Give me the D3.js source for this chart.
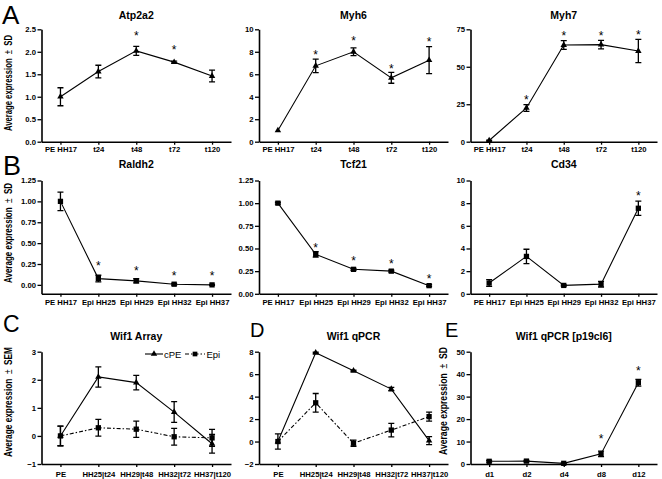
<!DOCTYPE html>
<html><head><meta charset="utf-8">
<script src="https://cdn.jsdelivr.net/npm/d3@7"></script>
<style>
body{margin:0;background:#fff;}
svg{display:block;font-family:"Liberation Sans",Arial,sans-serif;}
</style></head><body>
<svg id="c" width="662" height="479"></svg>
<script>
// ---------- data ----------
const catsA = ["PE HH17","t24","t48","t72","t120"];
const catsB = ["PE HH17","Epi HH25","Epi HH29","Epi HH32","Epi HH37"];
const catsC = ["PE","HH25|t24","HH29|t48","HH32|t72","HH37|t120"];
const catsE = ["d1","d2","d4","d8","d12"];

const atp2a2Mean = [1.0,1.56,2.02,1.77,1.46];
const atp2a2SD   = [0.2,0.14,0.1,0.02,0.13];
const atp2a2Star = [null,null,2.41,2.11,null];

const myh6Mean = [1.0,6.75,8.0,5.68,7.25];
const myh6SD   = [0,0.6,0.35,0.48,1.2];
const myh6Star = [null,8.0,9.2,6.73,9.14];

const myh7Mean = [0.8,22.5,64.5,64.8,60.5];
const myh7SD   = [0.3,2.3,2.9,2.8,7.8];
const myh7Star = [null,30,72.3,72.3,73.4];

const raldh2Mean = [1.0,0.075,0.048,0.008,0.0];
const raldh2SD   = [0.11,0.04,0.025,0.01,0.005];
const raldh2Star = [null,0.26,0.2,0.146,0.14];

const tcf21Mean = [1.0,0.435,0.27,0.25,0.09];
const tcf21SD   = [0.01,0.03,0.01,0.01,0.01];
const tcf21Star = [null,0.54,0.39,0.364,0.2];

const cd34Mean = [0.95,3.3,0.74,0.85,7.55];
const cd34SD   = [0.3,0.63,0.05,0.25,0.63];
const cd34Star = [null,null,null,null,8.9];

const arrayCpe    = [0,2.1,1.9,0.85,-0.28];
const arrayCpeSEM = [0.35,0.36,0.26,0.37,0.33];
const arrayEpi    = [0,0.29,0.24,-0.03,-0.07];
const arrayEpiSEM = [0.35,0.3,0.29,0.3,0.3];

const qpcrCpe    = [0,7.9,6.3,4.67,0.08];
const qpcrCpeErr = [0,0.05,0.05,0.15,0.35];
const qpcrEpi    = [0,3.45,-0.15,1.02,2.22];
const qpcrEpiErr = [0.68,0.83,0.27,0.6,0.4];

const p19Mean = [1.2,1.3,0.3,4.5,36.2];
const p19SD   = [0.4,0.3,0.2,1.2,1.5];
const p19Star = [null,null,null,12.5,42.6];

const ticksAtp = [0,0.5,1.0,1.5,2.0,2.5];
const ticks10  = [0,2,4,6,8,10];
const ticks75  = [0,25,50,75];
const ticks125 = [0,0.25,0.5,0.75,1.0,1.25];
const ticksArr = [-1,0,1,2,3];
const ticksQ   = [-2,0,2,4,6,8];
const ticks50  = [0,10,20,30,40,50];

// ---------- layout ----------
const svg = d3.select("#c");
const cols = [[41.5,231],[259,448],[470.5,657]];
const rows = [
  {top:29.3,bot:141.7,title:18.5,pad:1.5},
  {top:180.5,bot:293.8,title:168,pad:2.5},
  {top:351.7,bot:464,title:340,pad:5}
];

function panel(o){
  const [x0,x1] = cols[o.col], R = rows[o.row];
  const x = d3.scalePoint().domain(o.cats).range([x0,x1]).padding(0.5);
  const y = d3.scaleLinear().domain(o.yDomain).range([R.bot,R.top]);
  const g = svg.append("g");

  const ya = g.append("g").attr("transform",`translate(${x0},0)`)
    .call(d3.axisLeft(y).tickValues(o.ticks).tickFormat(d3.format(o.fmt)).tickSize(4).tickPadding(1.5).tickSizeOuter(0));
  const xa = g.append("g").attr("transform",`translate(0,${R.bot})`)
    .call(d3.axisBottom(x).tickSize(3).tickPadding(R.pad).tickSizeOuter(0));
  [ya,xa].forEach(a=>{
    a.select(".domain").attr("stroke","#000").attr("stroke-width",1.6);
    a.selectAll(".tick line").attr("stroke","#000").attr("stroke-width",1.3);
    a.selectAll(".tick text").attr("fill","#000").attr("font-size",7.7).attr("font-weight","bold")
      .attr("font-family","'Liberation Sans',Arial,sans-serif");
  });

  g.append("text").attr("x",(x0+x1)/2).attr("y",R.title).attr("text-anchor","middle")
    .attr("font-size",10.5).attr("font-weight","bold").text(o.title);

  o.series.forEach(s=>{
    const pts = o.cats.map((c,i)=>({c,m:s.mean[i],e:s.err[i]}));
    const line = d3.line().x(d=>x(d.c)).y(d=>y(d.m));
    g.append("path").datum(pts).attr("d",line).attr("fill","none").attr("stroke","#000")
      .attr("stroke-width",1.1).attr("stroke-dasharray",s.dash||null);
    pts.forEach(d=>{
      if(d.e>0){
        const cx=x(d.c), yt=y(d.m+d.e), yb=y(d.m-d.e);
        g.append("path").attr("d",`M${cx},${yt}V${yb}M${cx-3},${yt}H${cx+3}M${cx-3},${yb}H${cx+3}`)
          .attr("stroke","#000").attr("stroke-width",1.3).attr("fill","none");
      }
    });
    const sym = s.shape==="tri" ? d3.symbol(d3.symbolTriangle).size(18) : d3.symbol(d3.symbolSquare).size(28);
    g.selectAll(null).data(pts).join("path")
      .attr("transform",d=>`translate(${x(d.c)},${y(d.m)})`).attr("d",sym()).attr("fill","#000");
  });

  if(o.stars){
    o.cats.forEach((c,i)=>{
      if(o.stars[i]==null) return;
      g.append("text").attr("x",x(c)).attr("y",y(o.stars[i])+7).attr("text-anchor","middle")
        .attr("font-size",12).text("*");
    });
  }
}

panel({col:0,row:0,cats:catsA,yDomain:[0,2.5],ticks:ticksAtp,fmt:".1f",title:"Atp2a2",
  series:[{mean:atp2a2Mean,err:atp2a2SD,shape:"tri"}],stars:atp2a2Star});
panel({col:1,row:0,cats:catsA,yDomain:[0,10],ticks:ticks10,fmt:"d",title:"Myh6",
  series:[{mean:myh6Mean,err:myh6SD,shape:"tri"}],stars:myh6Star});
panel({col:2,row:0,cats:catsA,yDomain:[0,75],ticks:ticks75,fmt:"d",title:"Myh7",
  series:[{mean:myh7Mean,err:myh7SD,shape:"tri"}],stars:myh7Star});
panel({col:0,row:1,cats:catsB,yDomain:[-0.107,1.25],ticks:ticks125,fmt:".2f",title:"Raldh2",
  series:[{mean:raldh2Mean,err:raldh2SD,shape:"sq"}],stars:raldh2Star});
panel({col:1,row:1,cats:catsB,yDomain:[0,1.25],ticks:ticks125,fmt:".2f",title:"Tcf21",
  series:[{mean:tcf21Mean,err:tcf21SD,shape:"sq"}],stars:tcf21Star});
panel({col:2,row:1,cats:catsB,yDomain:[0,10],ticks:ticks10,fmt:"d",title:"Cd34",
  series:[{mean:cd34Mean,err:cd34SD,shape:"sq"}],stars:cd34Star});
panel({col:0,row:2,cats:catsC,yDomain:[-1,3],ticks:ticksArr,fmt:"d",title:"Wif1 Array",
  series:[{mean:arrayEpi,err:arrayEpiSEM,shape:"sq",dash:"4,2,1.5,2"},{mean:arrayCpe,err:arrayCpeSEM,shape:"tri"}]});
panel({col:1,row:2,cats:catsC,yDomain:[-2,8],ticks:ticksQ,fmt:"d",title:"Wif1 qPCR",
  series:[{mean:qpcrEpi,err:qpcrEpiErr,shape:"sq",dash:"4,2,1.5,2"},{mean:qpcrCpe,err:qpcrCpeErr,shape:"tri"}]});
panel({col:2,row:2,cats:catsE,yDomain:[0,50],ticks:ticks50,fmt:"d",title:"Wif1 qPCR [p19cl6]",
  series:[{mean:p19Mean,err:p19SD,shape:"sq"}],stars:p19Star});

// legend (panel C)
const lg = svg.append("g");
lg.append("line").attr("x1",145).attr("x2",163).attr("y1",354).attr("y2",354).attr("stroke","#000").attr("stroke-width",1.1);
lg.append("path").attr("transform","translate(154,354)").attr("d",d3.symbol(d3.symbolTriangle).size(18)()).attr("fill","#000");
lg.append("text").attr("x",164).attr("y",357.5).attr("font-size",9.5).text("cPE");
lg.append("line").attr("x1",185).attr("x2",205).attr("y1",354).attr("y2",354).attr("stroke","#000").attr("stroke-width",1.1).attr("stroke-dasharray","4,2,1.5,2");
lg.append("path").attr("transform","translate(195,354)").attr("d",d3.symbol(d3.symbolSquare).size(22)()).attr("fill","#000");
lg.append("text").attr("x",206.5).attr("y",357.5).attr("font-size",9.5).text("Epi");

// y axis labels
function ylab(x,cy,txt,unit,len){
  const t = svg.append("text").attr("transform",`translate(${x},${cy}) rotate(-90)`)
    .attr("text-anchor","middle").attr("font-size",10).attr("font-weight","bold")
    .attr("textLength",len).attr("lengthAdjust","spacingAndGlyphs").style("white-space","pre");
  t.append("tspan").text(txt+"  ");
  t.append("tspan").attr("font-weight","normal").text("±");
  t.append("tspan").text("  "+unit);
}
ylab(11.5,83,"Average expression","SD",96);
ylab(11.5,233,"Average expression","SD",100);
ylab(11.5,402,"Average expression","SEM",110);
ylab(446.5,401,"Average expression","SD",108);

// panel letters
const letters = [["A",2,24,26],["B",3,175,27],["C",3,332,23],["D",250,337,20],["E",445,337,20]];
letters.forEach(([t,x,y,fs])=>svg.append("text").attr("x",x).attr("y",y).attr("font-size",fs).text(t));
</script>
</body></html>
